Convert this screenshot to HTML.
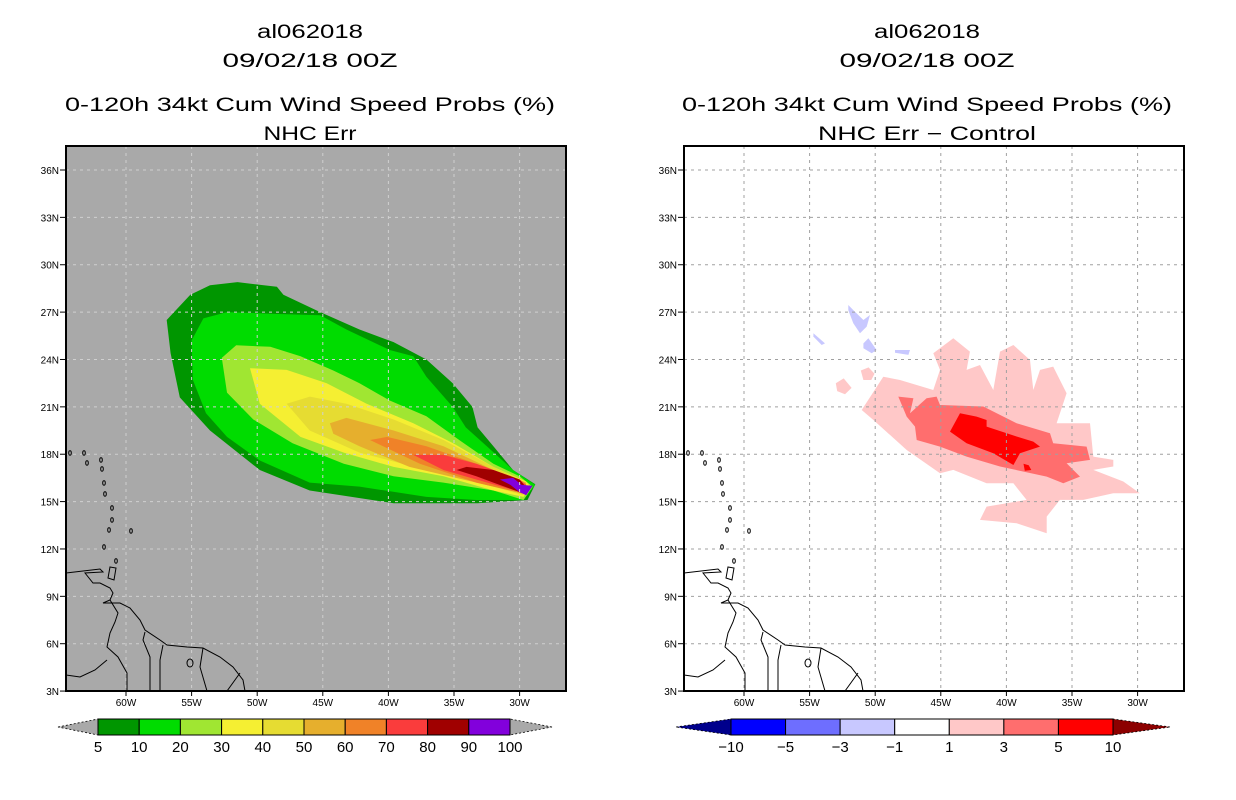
<!DOCTYPE html>
<html><head><meta charset="utf-8">
<style>
html,body{margin:0;padding:0;background:#fff;}
svg{display:block;font-family:"Liberation Sans",sans-serif;}
.t{font-size:19px;fill:#000;}
.tk{font-size:10px;fill:#000;}
.cb{font-size:15px;fill:#000;}
</style></head>
<body>
<svg id="fig" width="1236" height="800" viewBox="0 0 1236 800" xmlns="http://www.w3.org/2000/svg">
<rect width="1236" height="800" fill="#fff"/>
<g id="left"></g>
<g id="right"></g>
</svg>
<script>
// ---------- data ----------
const lonTicks = [-60,-55,-50,-45,-40,-35,-30];
const lonTickLabels = ["60W","55W","50W","45W","40W","35W","30W"];
const latTicks = [3,6,9,12,15,18,21,24,27,30,33,36];
const latTickLabels = ["3N","6N","9N","12N","15N","18N","21N","24N","27N","30N","33N","36N"];

const probLevels = [5,10,20,30,40,50,60,70,80,90,100];
const probColors = ["#009600","#00dc00","#a0e632","#f5ef32","#e6dc32","#e6af2d","#f08228","#fa3c3c","#a00000","#8200dc"];
const probContours = [
 [[-56.9,26.5],[-55.1,28.1],[-53.6,28.7],[-51.5,28.9],[-48.5,28.6],[-48.0,28.1],[-45.2,27.0],[-42.2,25.9],[-39.6,25.1],[-37.1,24.0],[-35.1,22.5],[-33.6,21.0],[-33.2,19.7],[-32.0,18.5],[-30.5,17.0],[-28.8,16.1],[-29.4,15.1],[-33.2,14.9],[-39.6,14.9],[-46.0,15.7],[-49.8,17.0],[-53.6,19.5],[-55.9,21.6],[-56.6,24.4]],
 [[-55.0,25.2],[-54.1,26.6],[-52.3,27.0],[-49.0,26.9],[-45.2,26.8],[-43.2,25.9],[-39.9,24.6],[-38.1,24.2],[-37.1,22.9],[-35.1,21.0],[-34.1,19.7],[-32.5,18.5],[-30.5,17.0],[-28.8,16.06],[-29.7,15.1],[-33.3,15.1],[-37.1,15.3],[-42.2,15.95],[-46.0,16.2],[-49.8,17.6],[-52.3,19.1],[-53.9,20.6],[-54.9,22.7]],
 [[-52.7,24.1],[-51.6,24.9],[-49.0,24.8],[-46.7,24.2],[-44.2,23.3],[-42.2,22.5],[-39.9,21.4],[-37.1,20.4],[-34.6,18.9],[-32.0,17.4],[-30.0,16.6],[-29.0,15.95],[-29.7,15.1],[-32.0,15.7],[-35.8,16.2],[-39.6,16.6],[-43.4,17.4],[-47.3,18.7],[-50.3,20.2],[-52.3,21.9]],
 [[-50.55,23.45],[-47.76,23.34],[-44.7,22.5],[-41.66,21.2],[-38.1,19.96],[-35.06,18.7],[-32.0,17.2],[-29.5,16.27],[-29.2,15.95],[-29.7,15.3],[-32.0,15.7],[-35.8,16.6],[-39.6,17.2],[-43.4,18.1],[-46.7,19.1],[-49.8,21.2]],
 [[-47.76,21.2],[-45.98,21.65],[-43.2,21.2],[-39.6,20.2],[-35.8,18.9],[-32.0,17.2],[-29.5,16.2],[-29.7,15.4],[-32.0,15.95],[-37.1,17.0],[-42.2,18.1],[-46.0,19.5]],
 [[-44.46,19.96],[-43.2,20.3],[-39.6,19.5],[-35.8,18.5],[-32.0,17.0],[-29.5,16.2],[-29.7,15.5],[-33.3,16.2],[-38.4,17.2],[-42.2,18.5],[-44.2,19.3]],
 [[-41.4,18.9],[-40.1,19.1],[-37.1,18.5],[-33.3,17.4],[-30.0,16.4],[-29.5,16.06],[-29.7,15.5],[-33.3,16.2],[-37.6,17.4]],
 [[-38.1,17.96],[-35.8,17.96],[-33.3,17.4],[-30.0,16.4],[-29.5,16.06],[-29.9,15.6],[-33.3,16.4],[-35.8,17.0]],
 [[-34.8,17.0],[-34.05,17.2],[-32.0,17.0],[-30.0,16.4],[-29.6,16.0],[-30.0,15.6],[-32.0,16.2],[-33.3,16.6]],
 [[-31.5,16.4],[-30.5,16.5],[-29.85,16.06],[-29.0,16.0],[-29.5,15.4],[-30.0,15.6],[-30.7,16.06]]
];

const diffLevels = [-10,-5,-3,-1,1,3,5,10];
const diffColors = ["#00008c","#0000ff","#6e6eff","#c8c8ff","#ffffff","#ffc8c8","#ff6e6e","#ff0000","#8c0000"];
const diffPinkPolys = [
 [[-51.03,20.8],[-49.38,22.91],[-48.11,22.7],[-45.57,22.07],[-45.06,23.34],[-45.57,24.4],[-44.05,25.34],[-42.78,24.5],[-43.03,23.34],[-42.01,23.65],[-41.0,22.07],[-40.49,24.5],[-39.47,24.92],[-38.2,23.97],[-37.95,22.07],[-37.44,23.34],[-36.43,23.55],[-35.41,21.86],[-36.17,19.96],[-33.63,19.96],[-33.38,17.85],[-31.85,17.64],[-31.85,17.22],[-33.38,17.01],[-31.09,16.27],[-29.83,15.53],[-31.85,15.53],[-34.14,15.11],[-35.92,15.11],[-36.93,14.05],[-36.93,13.0],[-39.22,13.63],[-42.01,13.84],[-41.51,14.68],[-38.46,15.11],[-39.47,16.16],[-41.51,16.16],[-44.05,17.01],[-45.06,16.8],[-47.6,18.27],[-50.14,20.17]],
 [[-51.1,23.3],[-50.5,23.5],[-50.05,23.1],[-50.3,22.7],[-50.9,22.7]],
 [[-53.0,22.5],[-52.4,22.8],[-51.8,22.2],[-52.3,21.8],[-52.9,22.0]]
];
const diffMedPolys = [
 [[-48.24,21.65],[-47.09,21.54],[-47.35,20.59],[-46.08,21.54],[-45.32,21.65],[-45.06,21.12],[-41.76,21.02],[-39.22,19.96],[-36.68,19.33],[-36.43,18.69],[-33.89,18.48],[-33.63,17.64],[-35.41,17.43],[-34.39,16.58],[-35.66,16.16],[-36.93,16.58],[-40.49,17.22],[-43.03,17.85],[-45.06,18.48],[-46.84,18.9],[-46.97,19.75],[-47.6,20.38]]
];
const diffRedPolys = [
 [[-44.3,19.43],[-43.54,20.59],[-42.27,20.38],[-41.51,20.17],[-41.51,19.75],[-39.22,19.12],[-37.95,18.8],[-37.44,18.48],[-38.97,18.06],[-39.47,17.32],[-41.0,18.06],[-43.03,18.69]],
 [[-38.7,17.4],[-38.3,17.3],[-38.1,17.0],[-38.6,16.95]]
];
const diffBluePolys = [
 [[-52.05,27.45],[-51.67,27.13],[-50.9,26.5],[-50.4,26.82],[-50.65,26.08],[-51.16,25.66],[-51.67,26.29],[-52.05,27.13]],
 [[-50.9,25.02],[-50.52,25.34],[-49.89,24.6],[-50.27,24.4],[-50.9,24.71]],
 [[-54.71,25.66],[-53.83,25.02],[-54.08,24.92],[-54.71,25.45]],
 [[-48.49,24.6],[-47.35,24.6],[-47.47,24.29],[-48.49,24.43]]
];

// ---------- projection ----------
const PX_PER_LON = 13.12, PX_PER_LAT = 15.79;
const LON_MIN = -60 - 60/13.12, LAT_MAX = 36 + 24/15.79;
const PLOT_W = 500, PLOT_H = 545, PLOT_TOP = 146;
function xScale(lon, x0){ return x0 + (lon - LON_MIN)*PX_PER_LON; }
function yScale(lat){ return PLOT_TOP + (LAT_MAX - lat)*PX_PER_LAT; }

const NS = "http://www.w3.org/2000/svg";
function mk(tag, attrs, parent){
  const e = document.createElementNS(NS, tag);
  for (const k in attrs) e.setAttribute(k, attrs[k]);
  parent.appendChild(e); return e;
}
function polyPts(poly, x0){ return poly.map(p => xScale(p[0],x0).toFixed(1)+","+yScale(p[1]).toFixed(1)).join(" "); }

const coastMain = "M66,573 L100,569 L103,572 L85,573 L93,583 L100,583 L110,588 L113,593 L110,600 L103,603 L120,603 L130,608 L140,620 L145,630 L160,640 L167,645 L187,647 L203,648 L220,657 L233,667 L243,680 L245,691";
const borders = "M110,600 L118,613 L115,622 L110,633 L107,647 L118,657 L127,673 L127,691 M145,632 L143,640 L150,657 L150,691 M163,645 L160,660 L160,691 M203,648 L200,667 L207,691 M240,673 L227,691 M66,675 L80,677 L95,670 L107,660";
const islands = [[84,453],[87,463],[101,460],[102,469],[104,483],[105,494],[112,508],[112,520],[109,530],[104,547],[131,531],[116,561],[70,453]];

function drawPanel(g, x0, bg, titleLines, centerX){
  // titles
  const tl = [["al062018",38,106],["09/02/18 00Z",67,175],["0-120h 34kt Cum Wind Speed Probs (%)",111,490],[titleLines,140,titleLines==="NHC Err"?93:218]];
  const names = ["storm-id-title","date-title","main-title","subtitle"];
  tl.forEach((t,i)=>{
    const e = mk("text",{x:centerX,y:t[1],"text-anchor":"middle","class":"t",textLength:t[2],lengthAdjust:"spacingAndGlyphs"},g);
    
    
    e.textContent = t[0];
  });
  const clipId = "clip"+x0;
  const cp = mk("clipPath",{id:clipId},g);
  mk("rect",{x:x0,y:PLOT_TOP,width:PLOT_W,height:PLOT_H},cp);
  const plot = mk("g",{"clip-path":"url(#"+clipId+")"},g);
  
  
  mk("rect",{x:x0,y:PLOT_TOP,width:PLOT_W,height:PLOT_H,fill:bg},plot);
  return plot;
}

function drawAxes(g, plot, x0, gridColor){
  // gridlines
  latTicks.forEach(lat=>{
    const y = yScale(lat);
    const l = mk("line",{x1:x0,x2:x0+PLOT_W,y1:y,y2:y,stroke:gridColor,"stroke-width":1,"stroke-dasharray":"3,4"},plot);
    
    
  });
  lonTicks.forEach(lon=>{
    const x = xScale(lon,x0);
    const l = mk("line",{x1:x,x2:x,y1:PLOT_TOP,y2:PLOT_TOP+PLOT_H,stroke:gridColor,"stroke-width":1,"stroke-dasharray":"3,4"},plot);
    
    
  });
  // coastlines
  const cg = mk("g",{transform:"translate("+(x0-66)+",0)",fill:"none",stroke:"#000","stroke-width":1},plot);
  
  
  mk("path",{d:coastMain},cg);
  mk("path",{d:borders},cg);
  mk("ellipse",{cx:190,cy:663,rx:3,ry:4},cg);
  mk("path",{d:"M110,567 L116,568 L114,580 L108,578 Z"},cg);
  islands.forEach(p=>{ mk("ellipse",{cx:p[0],cy:p[1],rx:1.3,ry:2.2},cg); });
  // frame
  const fr = mk("rect",{x:x0,y:PLOT_TOP,width:PLOT_W,height:PLOT_H,fill:"none",stroke:"#000","stroke-width":2},g);
  
  
  latTicks.forEach((lat,i)=>{
    const y = yScale(lat);
    mk("line",{x1:x0-6,x2:x0,y1:y,y2:y,stroke:"#000","stroke-width":1},g);
    const t = mk("text",{x:x0-7,y:y+4,"text-anchor":"end","class":"tk"},g);
    
    
    t.textContent = latTickLabels[i];
  });
  lonTicks.forEach((lon,i)=>{
    const x = xScale(lon,x0);
    mk("line",{x1:x,x2:x,y1:PLOT_TOP+PLOT_H,y2:PLOT_TOP+PLOT_H+5,stroke:"#000","stroke-width":1},g);
    const t = mk("text",{x:x,y:706,"text-anchor":"middle","class":"tk"},g);
    
    
    t.textContent = lonTickLabels[i];
  });
}

function drawColorbar(g, left, right, bx0, bx1, levels, colors, name){
  const cb = mk("g",{},g);
  
  
  const y0=719, y1=735, n = colors.length-2;
  const w = (bx1-bx0)/n;
  mk("polygon",{points:left+",727 "+bx0+","+y0+" "+bx0+","+y1,fill:colors[0],stroke:"#000","stroke-width":0.8,"stroke-dasharray":"2,2"},cb);
  mk("polygon",{points:right+",727 "+bx1+","+y0+" "+bx1+","+y1,fill:colors[colors.length-1],stroke:"#000","stroke-width":0.8,"stroke-dasharray":"2,2"},cb);
  for(let i=0;i<n;i++){
    const r = mk("rect",{x:bx0+i*w,y:y0,width:w,height:y1-y0,fill:colors[i+1],stroke:"#000","stroke-width":1},cb);
    
    
  }
  levels.forEach((lv,i)=>{
    const t = mk("text",{x:bx0+i*w,y:752,"text-anchor":"middle","class":"cb"},cb);
    
    
    t.textContent = String(lv).replace("-","\u2212");
  });
}

// left panel
const L = document.getElementById("left");
const lp = drawPanel(L, 66, "#a9a9a9", "NHC Err", 310);
probContours.forEach((poly,i)=>{
  const p = mk("polygon",{points:polyPts(poly,66),fill:probColors[i]},lp);
  
  
});
drawAxes(L, lp, 66, "#d0d0d0");
// probColors for colorbar: gray triangles at both ends
drawColorbar(L, 58, 552, 98, 510, probLevels, ["#a9a9a9"].concat(probColors,["#a9a9a9"]), "prob-colorbar");

// right panel
const R = document.getElementById("right");
const rp = drawPanel(R, 684, "#ffffff", "NHC Err \u2212 Control", 927);
diffPinkPolys.forEach(poly=>{
  const p = mk("polygon",{points:polyPts(poly,684),fill:diffColors[5]},rp);
  
  
});
diffMedPolys.forEach(poly=>{
  const p = mk("polygon",{points:polyPts(poly,684),fill:diffColors[6]},rp);
  
  
});
diffRedPolys.forEach(poly=>{
  const p = mk("polygon",{points:polyPts(poly,684),fill:diffColors[7]},rp);
  
  
});
diffBluePolys.forEach(poly=>{
  const p = mk("polygon",{points:polyPts(poly,684),fill:diffColors[3]},rp);
  
  
});
drawAxes(R, rp, 684, "#a0a0a0");
drawColorbar(R, 676, 1170, 731, 1113, diffLevels, diffColors, "diff-colorbar");
</script>
</body></html>
